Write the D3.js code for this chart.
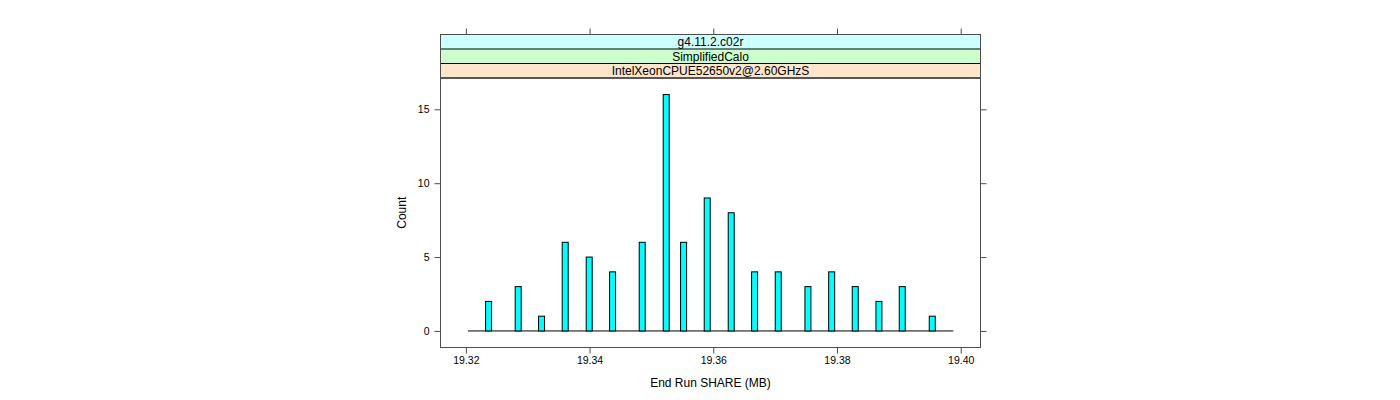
<!DOCTYPE html>
<html>
<head>
<meta charset="utf-8">
<script src="https://cdn.jsdelivr.net/npm/d3@7"></script>
<style>
  body { margin: 0; background: #fff; }
  svg { display: block; font-family: 'Liberation Sans', Arial, sans-serif; }
</style>
</head>
<body>
<div id="chart"></div>
<script>
// bin centres (MB) and counts
const binCenters = [
  19.32367, 19.32846, 19.33224, 19.33606, 19.33994, 19.34372, 19.34851,
  19.35239, 19.3552, 19.35902, 19.3629, 19.36668, 19.3705, 19.3753,
  19.37914, 19.38295, 19.38678, 19.39055, 19.3954,
]
const counts = [2, 3, 1, 6, 5, 4, 6, 16, 6, 9, 8, 4, 4, 3, 4, 3, 2, 3, 1]
const binWidth = 0.00097
const baseRange = [19.32032, 19.3988]
const xTicks = [19.32, 19.34, 19.36, 19.38, 19.4]
const yTicks = [0, 5, 10, 15]
const strips = [
  { label: 'g4.11.2.c02r', color: '#ccffff' },
  { label: 'SimplifiedCalo', color: '#ccffcc' },
  { label: 'IntelXeonCPUE52650v2@2.60GHzS', color: '#ffe5cc' },
]

const width = 1400
const height = 400
const panel = { left: 440.5, right: 980.5, top: 78, bottom: 347.5 }
const stripTop = 34.5
const stripH = (panel.top - stripTop) / strips.length

const svg = d3
  .select('#chart')
  .append('svg')
  .attr('width', width)
  .attr('height', height)

const x = d3
  .scaleLinear()
  .domain([19.3159, 19.4032])
  .range([panel.left, panel.right])
const y = d3
  .scaleLinear()
  .domain([-1.12, 17.12])
  .range([panel.bottom, panel.top])

const axisColor = '#4d4d4d'

// strips
const stripG = svg.append('g')
strips.forEach((s, i) => {
  const top = stripTop + i * stripH
  stripG
    .append('rect')
    .attr('x', panel.left)
    .attr('y', top)
    .attr('width', panel.right - panel.left)
    .attr('height', stripH)
    .attr('fill', s.color)
    .attr('stroke', i === 0 ? 'none' : '#000')
  stripG
    .append('text')
    .attr('x', (panel.left + panel.right) / 2)
    .attr('y', top + stripH / 2)
    .attr('dy', '0.36em')
    .attr('text-anchor', 'middle')
    .attr('font-size', 12)
    .text(s.label)
})
stripG
  .append('rect')
  .attr('x', panel.left)
  .attr('y', stripTop)
  .attr('width', panel.right - panel.left)
  .attr('height', panel.top - stripTop)
  .attr('fill', 'none')
  .attr('stroke', axisColor)

// panel border
svg
  .append('rect')
  .attr('x', panel.left)
  .attr('y', panel.top)
  .attr('width', panel.right - panel.left)
  .attr('height', panel.bottom - panel.top)
  .attr('fill', 'none')
  .attr('stroke', axisColor)

// axes
const tickStyle = g => {
  g.select('.domain').remove()
  g.selectAll('.tick line').attr('stroke', axisColor)
  g.selectAll('.tick text').attr('fill', '#000').attr('font-size', 10.5)
}
svg
  .append('g')
  .attr('transform', `translate(0,${panel.bottom})`)
  .call(d3.axisBottom(x).tickValues(xTicks).tickFormat(d3.format('.2f')).tickSize(6).tickPadding(3))
  .call(tickStyle)
svg
  .append('g')
  .attr('transform', `translate(0,${stripTop})`)
  .call(d3.axisTop(x).tickValues(xTicks).tickFormat('').tickSize(6))
  .call(tickStyle)
svg
  .append('g')
  .attr('transform', `translate(${panel.left},0)`)
  .call(d3.axisLeft(y).tickValues(yTicks).tickSize(6).tickPadding(5))
  .call(tickStyle)
svg
  .append('g')
  .attr('transform', `translate(${panel.right},0)`)
  .call(d3.axisRight(y).tickValues(yTicks).tickFormat('').tickSize(6))
  .call(tickStyle)

// baseline
svg
  .append('line')
  .attr('x1', x(baseRange[0]))
  .attr('x2', x(baseRange[1]))
  .attr('y1', y(0))
  .attr('y2', y(0))
  .attr('stroke', '#000')

// bars
svg
  .append('g')
  .selectAll('rect')
  .data(binCenters.map((c, i) => ({ c, n: counts[i] })))
  .join('rect')
  .attr('x', d => x(d.c - binWidth / 2))
  .attr('width', d => x(d.c + binWidth / 2) - x(d.c - binWidth / 2))
  .attr('y', d => y(d.n))
  .attr('height', d => y(0) - y(d.n))
  .attr('fill', '#00ffff')
  .attr('stroke', '#000')

// axis titles
svg
  .append('text')
  .attr('x', (panel.left + panel.right) / 2)
  .attr('y', 387)
  .attr('text-anchor', 'middle')
  .attr('font-size', 12)
  .text('End Run SHARE (MB)')
svg
  .append('text')
  .attr('transform', `translate(406,${(panel.top + panel.bottom) / 2}) rotate(-90)`)
  .attr('text-anchor', 'middle')
  .attr('font-size', 12)
  .text('Count')
</script>
</body>
</html>
